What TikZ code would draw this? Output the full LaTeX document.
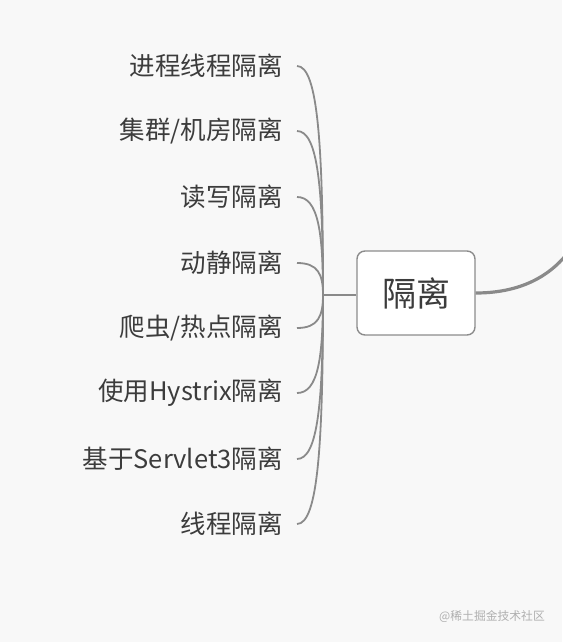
\documentclass[tikz,border=0pt]{standalone}
\usepackage{fontspec}
\setmainfont{Noto Sans CJK SC}
\begin{document}
\begin{tikzpicture}[x=1pt,y=-1pt,
  lbl/.style={anchor=east,inner sep=0pt,text=txtc,font=\fontsize{25.5}{29}\selectfont},
  branch/.style={draw=linec,line width=1.8pt},
  rootbox/.style={draw=boxc,line width=1.4pt,fill=white,rounded corners=8pt,minimum width=118pt,minimum height=84pt,text=txtc,font=\fontsize{34}{38}\selectfont,inner sep=0pt}]
\definecolor{bgc}{RGB}{248,248,248}
\definecolor{linec}{RGB}{138,138,138}
\definecolor{boxc}{RGB}{140,140,140}
\definecolor{txtc}{RGB}{60,60,60}
\definecolor{wmc}{RGB}{175,175,175}
\fill[bgc] (0,0) rectangle (562,642);
\useasboundingbox (0,0) rectangle (562,642);
\node[rootbox] (root) at (416,293) {隔离};
\coordinate (hub) at (323,295);
\coordinate (far) at (570,250);
\draw[linec,line width=3.2pt] (root.east) .. controls (515,293) and (548,280) .. (far);
\draw[branch] (root.west |- hub) -- (hub);
\foreach \i/\y/\t in {1/66/{进程线程隔离},2/131/{集群/机房隔离},3/197/{读写隔离},4/263/{动静隔离},5/328/{爬虫/热点隔离},6/393/{使用Hystrix隔离},7/459/{基于Servlet3隔离},8/524/{线程隔离}}{
  \node[lbl] (l\i) at (283,\y) {\t};
  \coordinate (e\i) at (297,\y);
  \pgfmathsetmacro{\cy}{\y+(295-\y)*0.35}
  \draw[branch] (e\i) .. controls (318,\y) and (323,\cy) .. (hub);
}
\node[anchor=east,inner sep=0pt,text=wmc,font=\fontsize{11.8}{14}\selectfont] (wm) at (545,617) {@稀土掘金技术社区};
\end{tikzpicture}
\end{document}
